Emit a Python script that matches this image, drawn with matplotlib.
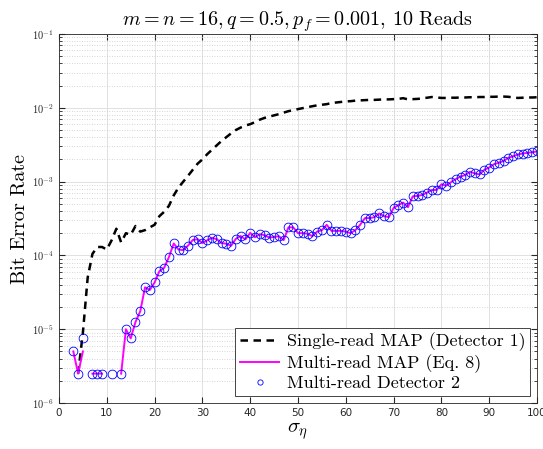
import numpy as np
import matplotlib
matplotlib.use('Agg')
import matplotlib.pyplot as plt
from matplotlib.ticker import FixedLocator, FuncFormatter, LogLocator, NullFormatter

plt.rcParams['mathtext.fontset'] = 'cm'
plt.rcParams['axes.unicode_minus'] = False

sigma = np.arange(1, 101)

single_read = [
    0, 0, 0, 2.5e-6, 9e-6, 5e-5, 1.05e-4, 1.3e-4, 1.3e-4, 1.2e-4,
    1.6e-4, 2.3e-4, 1.5e-4, 2.0e-4, 1.9e-4, 2.5e-4, 2.1e-4, 2.2e-4, 2.4e-4, 2.6e-4,
    3.4e-4, 3.9e-4, 4.7e-4, 6.5e-4, 8.3e-4, 1.0e-3, 1.2e-3, 1.45e-3, 1.75e-3, 2.0e-3,
    2.35e-3, 2.7e-3, 3.1e-3, 3.55e-3, 4.0e-3, 4.5e-3, 5.0e-3, 5.4e-3, 5.75e-3, 6.0e-3,
    6.4e-3, 6.9e-3, 7.3e-3, 7.6e-3, 7.9e-3, 8.2e-3, 8.6e-3, 9.0e-3, 9.3e-3, 9.6e-3,
    9.9e-3, 1.02e-2, 1.05e-2, 1.08e-2, 1.1e-2, 1.12e-2, 1.16e-2, 1.18e-2, 1.2e-2, 1.22e-2,
    1.23e-2, 1.25e-2, 1.26e-2, 1.27e-2, 1.28e-2, 1.28e-2, 1.29e-2, 1.3e-2, 1.3e-2, 1.31e-2,
    1.32e-2, 1.35e-2, 1.3e-2, 1.31e-2, 1.32e-2, 1.34e-2, 1.37e-2, 1.4e-2, 1.38e-2, 1.36e-2,
    1.36e-2, 1.37e-2, 1.37e-2, 1.38e-2, 1.38e-2, 1.39e-2, 1.39e-2, 1.4e-2, 1.4e-2, 1.41e-2,
    1.41e-2, 1.42e-2, 1.42e-2, 1.41e-2, 1.38e-2, 1.36e-2, 1.37e-2, 1.38e-2, 1.38e-2, 1.39e-2,
]
multi_read_map = [
    0, 0, 5e-6, 2.5e-6, 5e-6, 0, 2.5e-6, 2.5e-6, 2.5e-6, 0,
    2.5e-6, 0, 2.5e-6, 1e-5, 7.5e-6, 1.25e-5, 1.75e-5, 3.7e-5, 3.4e-5, 4.3e-5,
    6.1e-5, 6.8e-5, 9.5e-5, 1.45e-4, 1.2e-4, 1.18e-4, 1.36e-4, 1.62e-4, 1.66e-4, 1.47e-4,
    1.6e-4, 1.73e-4, 1.66e-4, 1.47e-4, 1.44e-4, 1.35e-4, 1.68e-4, 1.83e-4, 1.65e-4, 2.02e-4,
    1.76e-4, 1.94e-4, 1.88e-4, 1.74e-4, 1.78e-4, 1.82e-4, 1.61e-4, 2.4e-4, 2.4e-4, 2.0e-4,
    2.0e-4, 1.97e-4, 1.82e-4, 2.1e-4, 2.2e-4, 2.6e-4, 2.15e-4, 2.15e-4, 2.15e-4, 2.1e-4,
    2.0e-4, 2.2e-4, 2.6e-4, 3.2e-4, 3.2e-4, 3.3e-4, 3.7e-4, 3.4e-4, 3.3e-4, 4.4e-4,
    4.8e-4, 5.2e-4, 4.5e-4, 6.3e-4, 6.4e-4, 6.6e-4, 7.1e-4, 7.7e-4, 7.7e-4, 9.2e-4,
    8.8e-4, 9.8e-4, 1.08e-3, 1.17e-3, 1.23e-3, 1.36e-3, 1.29e-3, 1.25e-3, 1.45e-3, 1.55e-3,
    1.72e-3, 1.8e-3, 1.9e-3, 2.1e-3, 2.2e-3, 2.33e-3, 2.4e-3, 2.45e-3, 2.5e-3, 2.56e-3,
]
detector2 = list(multi_read_map)
detector2[4] = 7.5e-6

def masked(v):
    v = np.array(v, dtype=float)
    v[v <= 0] = np.nan
    return v

fig = plt.figure(figsize=(5.43, 4.49), dpi=100)
ax = fig.add_axes([59/543, 1 - 403/449, (537 - 59)/543, (403 - 34)/449])

ax.semilogy(sigma, masked(single_read), '--', color='black', lw=1.8, dashes=(3.0, 2.2),
            label='Single-read MAP (Detector 1)')
ax.semilogy(sigma, masked(multi_read_map), '-', color='magenta', lw=1.4,
            label='Multi-read MAP (Eq. 8)')
ax.semilogy(sigma, masked(detector2), 'o', color='blue', mfc='none', ms=6.3, mew=0.6,
            label='Multi-read Detector 2')

ax.set_xlim(0, 100)
ax.set_ylim(1e-6, 1e-1)
ax.xaxis.set_major_locator(FixedLocator(np.arange(0, 101, 10)))
ax.yaxis.set_major_locator(LogLocator(base=10, numticks=10))
ax.yaxis.set_minor_locator(LogLocator(base=10, subs=np.arange(2, 10), numticks=20))
ax.yaxis.set_minor_formatter(NullFormatter())
ax.yaxis.set_major_formatter(FuncFormatter(lambda v, p: r'$\mathsf{10^{%d}}$' % round(np.log10(v))))

ax.grid(True, which='major', color='#dcdcdc', lw=0.6, ls='-')
ax.grid(True, which='minor', axis='y', color='#c8c8c8', lw=0.6, ls=(0, (1, 2)))
ax.set_axisbelow(True)
ax.tick_params(which='both', direction='in', top=True, right=True, labelsize=7.5, colors='#262626')
ax.tick_params(which='major', length=4)
ax.tick_params(which='minor', length=2)
for s in ax.spines.values():
    s.set_color('#262626')
    s.set_linewidth(0.6)

ax.set_title(r'$m = n = 16, q = 0.5, p_f = 0.001$, 10 Reads', fontfamily='cmr10', fontsize=14.5, pad=5)
ax.set_xlabel(r'$\sigma_\eta$', fontsize=15, labelpad=2)
ax.set_ylabel('Bit Error Rate', fontfamily='cmr10', fontsize=14.5, labelpad=2)

leg = ax.legend(loc='lower right', prop={'family': 'cmr10', 'size': 13}, fancybox=False,
                framealpha=1, edgecolor='#262626', borderaxespad=0.4, handlelength=2.2,
                handletextpad=0.4, borderpad=0.25, labelspacing=0.15, markerscale=0.6)
leg.get_frame().set_linewidth(0.6)

fig.savefig('out.png', dpi=100)
